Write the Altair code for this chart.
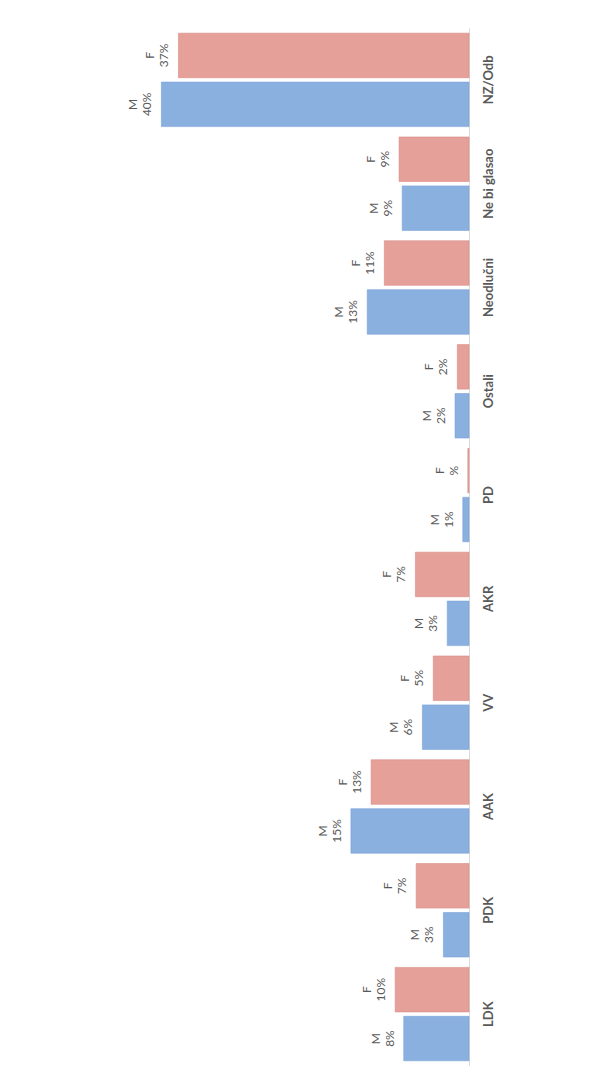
import altair as alt
import pandas as pd

categories = ["LDK", "PDK", "AAK", "VV", "AKR", "PD", "Ostali", "Neodlučni", "Ne bi glasao", "NZ/Odb"]
male = [8.4, 3.3, 15.2, 6.0, 2.8, 0.8, 1.8, 13.1, 8.6, 39.6]
female = [9.5, 6.8, 12.6, 4.6, 6.9, 0.15, 1.5, 10.9, 9.0, 37.4]
male_labels = ["8%", "3%", "15%", "6%", "3%", "1%", "2%", "13%", "9%", "40%"]
female_labels = ["10%", "7%", "13%", "5%", "7%", "%", "2%", "11%", "9%", "37%"]

rows = []
for c, m, f, ml, fl in zip(categories, male, female, male_labels, female_labels):
    rows.append({"cat": c, "g": "M", "v": m, "label": "M\n" + ml})
    rows.append({"cat": c, "g": "F", "v": f, "label": "F\n" + fl})
df = pd.DataFrame(rows)

BLUE = "#8ab0e0"
RED = "#e6a09a"

base = alt.Chart(df).encode(
    y=alt.Y(
        "cat:N",
        sort=list(reversed(categories)),
        scale=alt.Scale(paddingInner=0.1, paddingOuter=0.05),
        axis=alt.Axis(
            orient="right", title=None, labelAngle=270, labelAlign="center",
            labelBaseline="top", labelPadding=13, ticks=False, tickSize=0,
            domainColor="#d9d9d9", domainWidth=1, grid=False,
            labelFont="Lato", labelFontWeight="bold", labelFontSize=13,
            labelColor="#595959",
        ),
    ),
    yOffset=alt.YOffset("g:N", sort=["F", "M"], scale=alt.Scale(paddingInner=0.09)),
    x=alt.X("v:Q", scale=alt.Scale(domain=[0, 58.7], reverse=True), axis=None),
)

bars = base.mark_bar(strokeWidth=0.6).encode(
    color=alt.Color("g:N", scale=alt.Scale(domain=["M", "F"], range=[BLUE, RED]), legend=None),
    stroke=alt.Stroke("g:N", scale=alt.Scale(domain=["M", "F"], range=["#7aa2d6", "#d98a83"]), legend=None),
)

text = base.mark_text(
    angle=270, align="center", baseline="bottom", dy=-21, lineBreak="\n",
    fontSize=12, lineHeight=14, color="#595959", font="Lato",
).encode(text="label:N")

chart = (bars + text).properties(
    width=456, height=1038,
    padding={"left": 5, "top": 20, "right": 5, "bottom": 0},
).configure_view(stroke=None)

chart.save("out.html", embed_options={"renderer": "svg", "actions": False})
